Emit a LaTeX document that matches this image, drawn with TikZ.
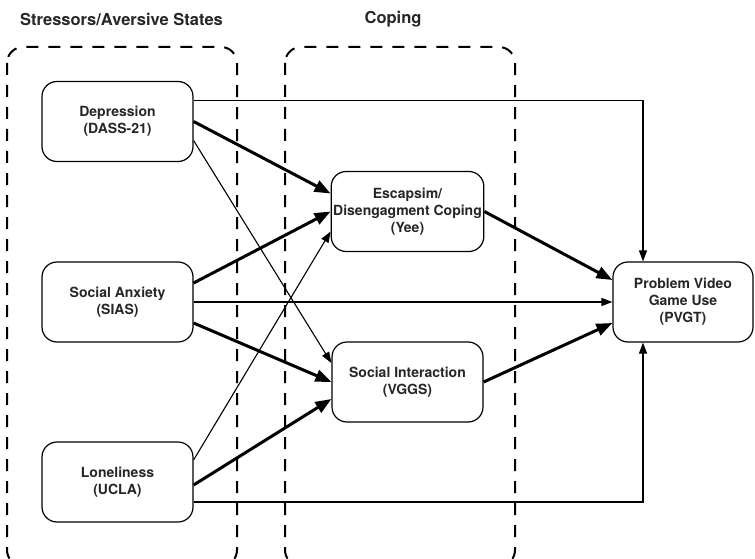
\documentclass[tikz,border=0pt]{standalone}
\usepackage{fontspec}
\setmainfont{TeX Gyre Heros}
\usetikzlibrary{arrows.meta}

\tikzset{
  var/.style={draw=black,line width=1.2pt,rounded corners=15pt,minimum width=151pt,minimum height=80pt,inner xsep=2pt,align=center,text=black!85,font=\bfseries\fontsize{14}{17}\selectfont},
  group/.style={draw=black,line width=2pt,dash pattern=on 12pt off 10pt,rounded corners=16pt},
  heading/.style={text=black!85,font=\bfseries\fontsize{16.5}{19}\selectfont},
  strong/.style={line width=3pt,-{Triangle[length=16pt,width=12pt]}},
  weak/.style={line width=1.1pt,-{Triangle[length=11pt,width=8pt]}}
}

\begin{document}
\begin{tikzpicture}[x=1pt,y=-1pt]
  \useasboundingbox (0,0) rectangle (755,559);
  % \draw[step=50,gray,very thin] (0,0) grid (755,559);
  %Groups
  \draw[group] (7,47) rectangle (237,566);
  \draw[group] (285,47) rectangle (515,566);
  \node at (121.5,19) [heading] (stress) {Stressors/Aversive States};
  \node at (393,19) [heading] (coping) {Coping};

  %Nodes
  \node at (117.5,121.5) [var] (dep) {Depression\\(DASS-21)};
  \node at (117.5,302) [var] (sa) {Social Anxiety\\(SIAS)};
  \node at (117.5,482) [var] (lon) {Loneliness\\(UCLA)};
  \node at (407.5,211.5) [var] (esc) {Escapsim/\\Disengagment Coping\\(Yee)};
  \node at (407.5,382) [var] (soc) {Social Interaction\\(VGGS)};
  \node at (683,302) [var,minimum width=140pt] (pvgt) {Problem Video\\Game Use\\(PVGT)};

  %Lines
  \draw[weak] ([yshift=21pt]dep.east) -| ([xshift=-40pt]pvgt.north);
  \draw[strong] (dep.east) to ([yshift=18pt]esc.west);
  \draw[weak] ([yshift=-19pt]dep.east) to ([yshift=19pt]soc.west);
  \draw[strong] ([yshift=19pt]sa.east) to (esc.west);
  \draw[weak] (sa.east) to (pvgt.west);
  \draw[strong] ([yshift=-21pt]sa.east) to (soc.west);
  \draw[weak] ([yshift=22pt]lon.east) to ([yshift=-20pt]esc.west);
  \draw[strong] ([yshift=-3pt]lon.east) to ([yshift=-17pt]soc.west);
  \draw[weak] ([yshift=-20pt]lon.east) -| ([xshift=-40pt]pvgt.south);
  \draw[strong] (esc.east) to ([yshift=22pt]pvgt.west);
  \draw[strong] (soc.east) to ([yshift=-21pt]pvgt.west);
\end{tikzpicture}
\end{document}
